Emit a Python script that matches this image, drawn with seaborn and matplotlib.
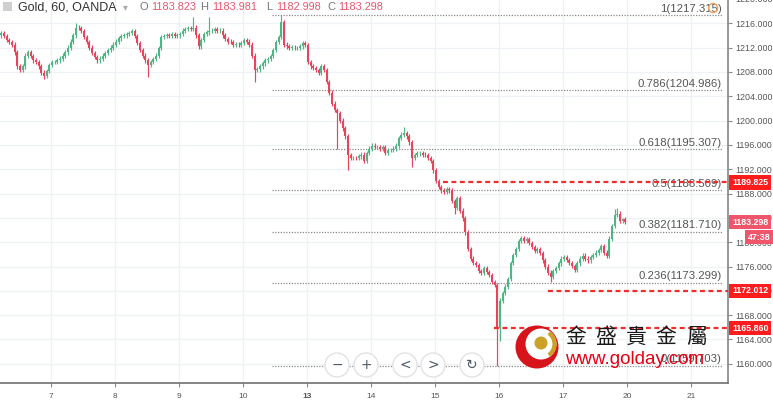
import matplotlib
matplotlib.use("Agg")
import matplotlib.pyplot as plt
from matplotlib.patches import Arc, Circle, Rectangle
import numpy as np
import pandas as pd
import seaborn as sns

# header
title = "Gold, 60, OANDA"
ohlc_letters = ["O", "H", "L", "C"]
ohlc_values = ["1183.823", "1183.981", "1182.998", "1183.298"]

# hourly closes (open = previous close)
first_open = 1214.0
closes = [
    1214.4, 1213.9, 1213.2, 1212.9, 1212.5, 1211.2, 1208.9, 1208.3, 1208.9, 1210.7,
    1211.2, 1210.6, 1209.9, 1209.6, 1208.9, 1207.9, 1207.4, 1208.1, 1209.2, 1209.6,
    1209.6, 1209.9, 1210.2, 1210.7, 1211.2, 1212.0, 1213.0, 1214.0, 1215.3, 1215.2,
    1214.7, 1213.7, 1212.9, 1212.0, 1211.1, 1210.4, 1209.9, 1210.2, 1210.7, 1211.1,
    1211.6, 1212.0, 1212.5, 1213.0, 1213.5, 1213.9, 1214.0, 1214.2, 1214.4, 1214.7,
    1213.9, 1212.7, 1211.6, 1210.7, 1209.9, 1209.1, 1209.6, 1210.1, 1210.7, 1211.9,
    1213.7, 1213.9, 1214.0, 1213.9, 1214.2, 1213.9, 1214.0, 1214.2, 1214.8, 1215.0,
    1215.2, 1215.0, 1215.3, 1214.0, 1212.2, 1213.2, 1214.2, 1214.5, 1214.7, 1214.8,
    1215.0, 1214.7, 1214.8, 1214.0, 1213.4, 1213.0, 1212.9, 1212.5, 1212.5, 1212.4,
    1212.7, 1213.2, 1213.0, 1212.5, 1210.7, 1208.3, 1208.4, 1208.9, 1209.4, 1209.9,
    1210.1, 1210.6, 1211.6, 1212.9, 1213.7, 1216.2, 1212.5, 1212.2, 1212.0, 1212.0,
    1211.9, 1211.9, 1212.2, 1212.7, 1212.4, 1209.6, 1208.9, 1208.6, 1208.3, 1207.9,
    1208.9, 1208.3, 1206.3, 1204.6, 1202.8, 1201.7, 1201.3, 1200.0, 1198.7, 1197.4,
    1194.3, 1193.8, 1193.9, 1193.8, 1194.1, 1194.4, 1193.4, 1194.7, 1195.4, 1195.9,
    1195.6, 1195.7, 1195.4, 1195.6, 1194.7, 1195.1, 1195.1, 1195.4, 1195.9, 1197.1,
    1197.7, 1198.0, 1197.4, 1196.4, 1193.9, 1194.3, 1194.6, 1194.6, 1194.4, 1194.3,
    1193.9, 1193.4, 1191.8, 1190.1, 1189.1, 1188.5, 1188.2, 1188.7, 1188.5, 1186.8,
    1185.7, 1187.2, 1185.2, 1183.9, 1181.6, 1178.9, 1177.3, 1176.6, 1176.3, 1175.3,
    1175.0, 1175.7, 1175.1, 1174.6, 1173.5, 1173.0, 1165.9, 1170.4, 1171.7, 1172.7,
    1174.0, 1176.6, 1177.9, 1178.9, 1180.2, 1180.7, 1180.2, 1180.5, 1179.9, 1179.2,
    1178.6, 1178.9, 1178.2, 1177.0, 1176.0, 1175.0, 1174.3, 1175.3, 1175.7, 1176.5,
    1177.3, 1177.5, 1177.1, 1176.6, 1176.1, 1175.5, 1176.5, 1177.3, 1177.8, 1177.3,
    1177.0, 1177.6, 1177.9, 1178.3, 1178.7, 1179.3, 1178.3, 1177.8, 1180.6, 1182.7,
    1184.5, 1184.7, 1183.5, 1183.8, 1183.298,
]
# notable wicks (candle index -> price); the rest get a small default wick
high_wicks = {28: 1216.1, 72: 1217.0, 78: 1217.1, 105: 1217.315, 151: 1198.9,
              230: 1185.4, 231: 1185.6, 233: 1183.981}
low_wicks = {16: 1206.9, 55: 1207.1, 95: 1206.3, 126: 1195.3, 130: 1191.9,
             154: 1192.3, 170: 1184.6, 186: 1159.703, 187: 1163.8, 206: 1173.4,
             234: 1182.998}

day_labels = ["7", "8", "9", "10", "13", "14", "15", "16", "17", "20", "21"]
first_day_pos = 18.6
candles_per_day = 24

fib_ratios = ["1", "0.786", "0.618", "0.5", "0.382", "0.236", "0"]
fib_prices = [1217.315, 1204.986, 1195.307, 1188.509, 1181.710, 1173.299, 1159.703]
fib_start, fib_end = 101.5, 270.2

marked_prices = [1189.825, 1172.012, 1165.860]
marked_starts = [165.6, 205.0, 184.7]

last_price = 1183.298
countdown = "47:38"

UP, DOWN = "#4fb584", "#e8455a"

df = pd.DataFrame({"close": closes})
df["open"] = df["close"].shift(1).fillna(first_open)
df["top"] = df[["open", "close"]].max(axis=1)
df["bot"] = df[["open", "close"]].min(axis=1)
df["high"] = df["top"] + 0.35
df["low"] = df["bot"] - 0.35
for k, v in high_wicks.items():
    df.loc[k, "high"] = v
for k, v in low_wicks.items():
    df.loc[k, "low"] = v
df["color"] = np.where(df["close"] >= df["open"], UP, DOWN)

sns.set_theme(style="white")
plt.rcParams["font.family"] = ["Liberation Sans", "DejaVu Sans"]

fig = plt.figure(figsize=(7.73, 4.04), dpi=100)
ax = fig.add_axes([0, 21 / 404, 728 / 773, 383 / 404])

ax.vlines(df.index, df["low"], df["high"], colors=df["color"], lw=0.85, zorder=3)
ax.bar(df.index, np.maximum(df["top"] - df["bot"], 0.1), bottom=df["bot"],
       width=0.8, color=df["color"], linewidth=0, zorder=4)

ax.set_xlim(-0.49, 272.5)
ax.set_ylim(1156.84, 1219.83)

yt = np.arange(1160, 1217, 4)
ax.set_yticks(yt)
ax.set_yticklabels([f"{v:.3f}" for v in yt])
ax.yaxis.tick_right()
xt = [first_day_pos + candles_per_day * i for i in range(len(day_labels))]
ax.set_xticks(xt)
ax.set_xticklabels(day_labels)
for lab in ax.get_xticklabels():
    if lab.get_text() == "13":
        lab.set_fontweight("bold")
        lab.set_color("#333")

ax.grid(True, color="#eef1f5", lw=0.9)
ax.set_axisbelow(True)
ax.spines["left"].set_visible(False)
ax.spines["top"].set_visible(False)
ax.spines["right"].set_color("#8a8a8a")
ax.spines["bottom"].set_color("#707070")
ax.spines["bottom"].set_linewidth(1.2)
ax.tick_params(axis="y", labelsize=6.4, labelcolor="#555", color="#8a8a8a",
               length=3, width=0.8, pad=2, right=True, left=False)
ax.tick_params(axis="x", labelsize=6, labelcolor="#555", color="#8a8a8a",
               length=3, width=0.8, pad=4, bottom=True)

# fibonacci retracement
ax.hlines(fib_prices, fib_start, fib_end, colors="#8a8a8a",
          linestyles=(0, (1, 1.2)), lw=0.9, zorder=2)
for r, p in zip(fib_ratios, fib_prices):
    ax.annotate(f"{r}({p:.3f})", xy=(fib_end, p), xytext=(0, 1.5),
                textcoords="offset pixels", ha="right", va="bottom",
                fontsize=8.2, color="#555", zorder=2)

# red marked levels
for p, s in zip(marked_prices, marked_starts):
    ax.hlines(p, s, 272.5, colors="#f22b2b", linestyles=(0, (2.2, 1.6)),
              lw=1.6, zorder=5)
    ax.annotate(f"{p:.3f}", xy=(732 / 728, p), xycoords=("axes fraction", "data"),
                ha="left", va="center", fontsize=6.4, fontweight="bold",
                color="white", annotation_clip=False,
                bbox=dict(boxstyle="square,pad=0.3", fc="#ff1c1c", ec="none"))

ax.annotate(f"{last_price:.3f}", xy=(732 / 728, last_price),
            xycoords=("axes fraction", "data"), ha="left", va="center",
            fontsize=6.4, fontweight="bold", color="white", annotation_clip=False,
            bbox=dict(boxstyle="square,pad=0.3", fc="#f0566b", ec="none"))
ax.annotate(countdown, xy=(770 / 728, last_price), xycoords=("axes fraction", "data"),
            xytext=(0, -15), textcoords="offset pixels", ha="right", va="center",
            fontsize=6.4, fontweight="bold", color="white", annotation_clip=False,
            bbox=dict(boxstyle="square,pad=0.3", fc="#f0566b", ec="none"))

# overlay in pixel coordinates for header, buttons and watermark
ov = fig.add_axes([0, 0, 1, 1], zorder=10)
ov.set_xlim(0, 773)
ov.set_ylim(404, 0)
ov.axis("off")
ov.patch.set_alpha(0)

ov.add_patch(Rectangle((3, 2), 9, 9, fc="#cfcfcf", ec="none"))
ov.text(18, 7, title, fontsize=9, color="#333", ha="left", va="center")
ov.text(125, 7, "\u25be", fontsize=7, color="#aaa", ha="center", va="center",
        family=["DejaVu Sans"])
for lx, vx, l, v in zip([140, 200, 266, 327], [151, 212, 276, 338],
                        ohlc_letters, ohlc_values):
    ov.text(lx, 7, l, fontsize=8, color="#777", ha="left", va="center")
    ov.text(vx, 7, v, fontsize=7.8, color="#e8566c", ha="left", va="center")
ov.text(735, -1, "1220.000", fontsize=6.4, color="#555", ha="left", va="center")
ov.add_patch(Circle((713, 8), 4.5, fc="none", ec="#f0a060", lw=1))

for bx, sym in zip([337, 366, 405, 433, 472], ["\u2212", "+", "<", ">", "\u21bb"]):
    ov.add_patch(Circle((bx, 365), 12, fc="white", ec="#e2e2e2", lw=1))
    ov.text(bx, 365, sym, fontsize=10, color="#4d5b69", ha="center",
            va="center", family=["DejaVu Sans"])

# watermark logo
ov.add_patch(Circle((537, 347), 21.5, fc="#d7141a", ec="none"))
ov.add_patch(Circle((541, 344), 15.5, fc="white", ec="none"))
ov.add_patch(Arc((541, 344), 27, 27, theta1=-55, theta2=55, color="#c9a227", lw=3))
ov.add_patch(Circle((541, 343), 6.5, fc="#c9a227", ec="none"))
for i, ch in enumerate("金盛貴金屬"):
    ov.text(575.5 + 30.25 * i, 337, ch, fontsize=15, color="#1a1a1a",
            ha="center", va="center", family=["Noto Sans CJK TC", "DejaVu Sans"])
ov.text(565, 360, "www.golday.com", fontsize=13.5, color="#e60012",
        ha="left", va="center")

fig.savefig("out.png", dpi=100)
